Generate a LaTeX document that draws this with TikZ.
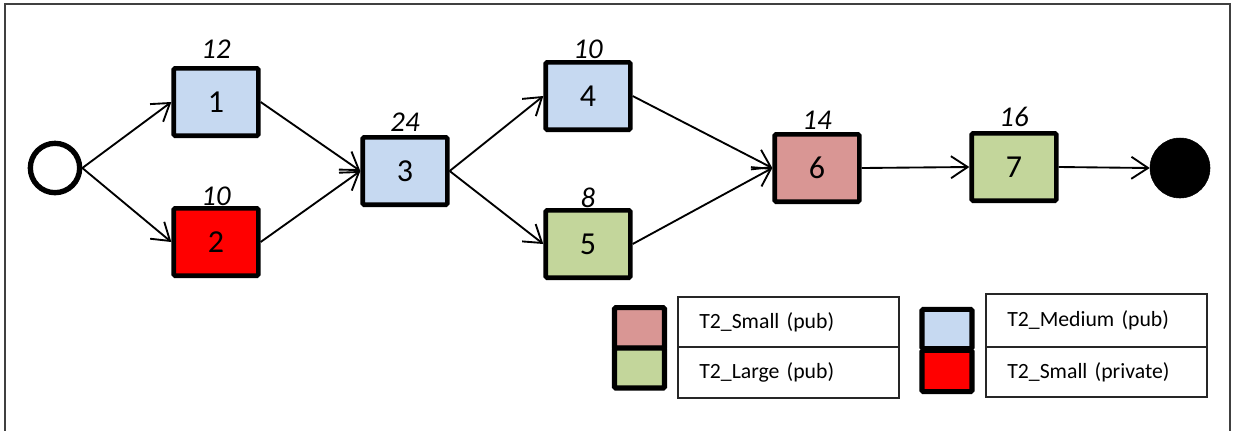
\documentclass[tikz,border=0pt]{standalone}
\usepackage{fontspec}
\setmainfont{Carlito}
\usetikzlibrary{arrows.meta}
\definecolor{cblue}{HTML}{C6D9F1}
\definecolor{cred}{HTML}{FF0000}
\definecolor{cpink}{HTML}{D99694}
\definecolor{cgreen}{HTML}{C3D69B}
\tikzset{
  task/.style={draw=black, line width=3.5pt, rounded corners=1pt, minimum width=63.5pt, minimum height=50.5pt, inner sep=0pt, font=\fontsize{24}{26}\selectfont},
  cost/.style={inner sep=0pt, font=\fontsize{21.5}{23}\selectfont\itshape},
  flow/.style={line width=1.4pt, -{Straight Barb[length=12.5pt,width=16.5pt,line width=1.4pt]}},
  swatch/.style={draw=black, line width=3.8pt, rounded corners=1pt, minimum width=37.5pt, inner sep=0pt},
  cell/.style={draw=black!85, line width=1.1pt, inner ysep=0pt, inner xsep=16pt, text width=133.75pt, align=left, font=\fontsize{16.3}{18}\selectfont},
  frame/.style={draw=black!75, line width=1.1pt}
}
\begin{document}
\begin{tikzpicture}[x=0.75pt, y=-0.75pt]
\useasboundingbox (0,0) rectangle (1235,430);
\draw[frame] (5,440) -- (5,4) -- (1230,4) -- (1230,440);

% events
\node[circle, draw=black, line width=4pt, minimum size=37pt, inner sep=0pt] (s) at (55,168) {};
\node[circle, draw=black, fill=black, minimum size=45pt, inner sep=0pt] (e) at (1180,168) {};

% tasks
\node[task, fill=cblue]  (b1) at (216,102) {1};
\node[task, fill=cred]   (b2) at (216,242) {2};
\node[task, fill=cblue]  (b3) at (405,171) {3};
\node[task, fill=cblue]  (b4) at (588,96)  {4};
\node[task, fill=cgreen] (b5) at (588,244) {5};
\node[task, fill=cpink]  (b6) at (817,168) {6};
\node[task, fill=cgreen] (b7) at (1014,167) {7};

% costs
\node[cost] (c1) at (216,49)  {12};
\node[cost] (c3) at (405,122) {24};
\node[cost] (c4) at (588,49)  {10};
\node[cost] (c6) at (817,120) {14};
\node[cost] (c7) at (1014,117) {16};

% connectors
\draw[flow] (s.east) -- (b1.west);
\draw[flow] (s.east) -- (b2.west);
\draw[flow] (b1.east) -- (b3.west);
\draw[flow] (b2.east) -- (b3.west);
\draw[flow] (b3.east) -- (b4.west);
\draw[flow] (b3.east) -- (b5.west);
\draw[flow] (b4.east) -- (b6.west);
\draw[flow] (b5.east) -- (b6.west);
\draw[flow] (b6.east) -- (b7.west);
\draw[flow] (b7.east) -- (e.west);

% costs drawn over boxes
\node[cost] (c2) at (216,196) {10};
\node[cost] (c5) at (588,198) {8};

% legend
\node[swatch, fill=cpink,  minimum height=30.5pt] (sw1) at (639.5,328) {};
\node[swatch, fill=cgreen, minimum height=30pt]   (sw2) at (639.5,368) {};
\node[swatch, fill=cblue,  minimum height=29.5pt] (sw3) at (947,329) {};
\node[swatch, fill=cred,   minimum height=31pt]   (sw4) at (947,371) {};

\node[cell, minimum height=37.5pt] (t1) at (788.5,322) {T2\_Small (pub)};
\node[cell, minimum height=38pt]   (t2) at (788.5,372.5) {T2\_Large (pub)};
\node[cell, minimum height=39.5pt] (t3) at (1096.5,320.5) {T2\_Medium (pub)};
\node[cell, minimum height=37.5pt] (t4) at (1096.5,372) {T2\_Small (private)};
\end{tikzpicture}
\end{document}
